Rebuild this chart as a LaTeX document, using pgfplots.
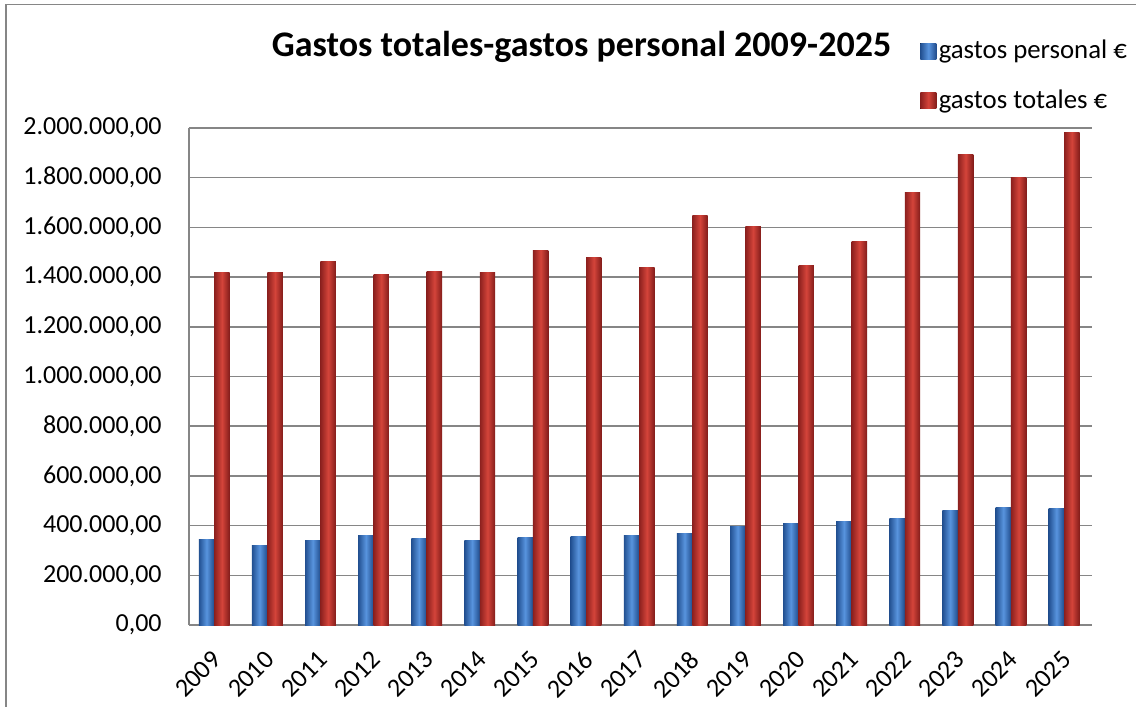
\documentclass[border=0pt]{standalone}
\usepackage{pgfplots}
\pgfplotsset{compat=1.18}
\usepackage{pgfplotstable}
\usepackage{fontspec}
\setmainfont{Carlito}
\definecolor{bL}{RGB}{34,80,145}
\definecolor{bM}{RGB}{88,148,222}
\definecolor{bR}{RGB}{32,76,140}
\definecolor{rL}{RGB}{140,32,30}
\definecolor{rM}{RGB}{212,68,58}
\definecolor{rR}{RGB}{130,28,26}
\definecolor{gridg}{RGB}{134,134,134}

\pgfplotstableread{
x pers tot
0 344000 1420000
1 319000 1420000
2 339000 1464000
3 360000 1412000
4 347000 1424000
5 339000 1420000
6 351000 1508000
7 355000 1478000
8 360000 1440000
9 368000 1648000
10 395000 1604000
11 407000 1448000
12 415000 1544000
13 427000 1740000
14 459000 1892000
15 471000 1802000
16 467000 1982000
}\data

\begin{document}
\begin{tikzpicture}
\useasboundingbox (-94.5pt,-41pt) rectangle (473.5pt,312.5pt);
\draw[gridg, line width=0.9pt] (-91.5pt,-60pt) -- (-91.5pt,310.2pt) -- (500pt,310.2pt);
\begin{axis}[
  scale only axis, width=451.5pt, height=248.5pt,
  xmin=-0.5, xmax=16.5, ymin=0, ymax=2000000,
  scaled y ticks=false,
  axis x line*=bottom, axis y line*=left,
  axis line style={-, gridg, line width=0.8pt},
  ymajorgrids, grid style={gridg, line width=0.8pt},
  major tick length=0pt,
  xtick={0,1,2,3,4,5,6,7,8,9,10,11,12,13,14,15,16},
  xticklabels={2009,2010,2011,2012,2013,2014,2015,2016,2017,2018,2019,2020,2021,2022,2023,2024,2025},
  ytick={0,200000,400000,600000,800000,1000000,1200000,1400000,1600000,1800000,2000000},
  yticklabels={{0,00},{200.000,00},{400.000,00},{600.000,00},{800.000,00},{1.000.000,00},{1.200.000,00},{1.400.000,00},{1.600.000,00},{1.800.000,00},{2.000.000,00}},
  tick label style={font=\fontsize{13}{15.6}\selectfont},
  yticklabel style={anchor=east, inner sep=0pt, xshift=-13.5pt},
  xticklabel style={yshift=-12pt, xshift=-2.5pt, rotate=45, anchor=north east, inner sep=0pt},
  every axis title shift=0pt,
  title={Gastos totales-gastos personal 2009-2025},
  title style={at={(0.4347,1.163)}, anchor=center, yshift=0pt, font=\fontsize{18}{21.6}\selectfont\bfseries},
  legend style={at={(0.8095,1.182)}, anchor=north west, draw=none, fill=none,
    font=\fontsize{13.4}{16}\selectfont, row sep=11.5pt, inner sep=0pt,
    cells={anchor=west}, nodes={inner sep=1.2pt}},
  legend image code/.code={\fill[#1] (0pt,-4pt) rectangle (8pt,4pt);},
]
\addlegendimage{draw=none, left color=bL, right color=bR, middle color=bM}
\addlegendentry{gastos personal €}
\addlegendimage{draw=none, left color=rL, right color=rR, middle color=rM}
\addlegendentry{gastos totales €}
\pgfplotsinvokeforeach{0,...,16}{
\addplot[forget plot, ybar, bar width=0.29, bar shift=-0.17, draw=none,
  left color=bL, right color=bR, middle color=bM,
  x filter/.expression={abs(x-#1)<0.1 ? x : nan}, unbounded coords=discard]
  table[x=x,y=pers]{\data};
\addplot[forget plot, ybar, bar width=0.29, bar shift=0.12, draw=none,
  left color=rL, right color=rR, middle color=rM,
  x filter/.expression={abs(x-#1)<0.1 ? x : nan}, unbounded coords=discard]
  table[x=x,y=tot]{\data};
}
\end{axis}
\end{tikzpicture}
\end{document}
